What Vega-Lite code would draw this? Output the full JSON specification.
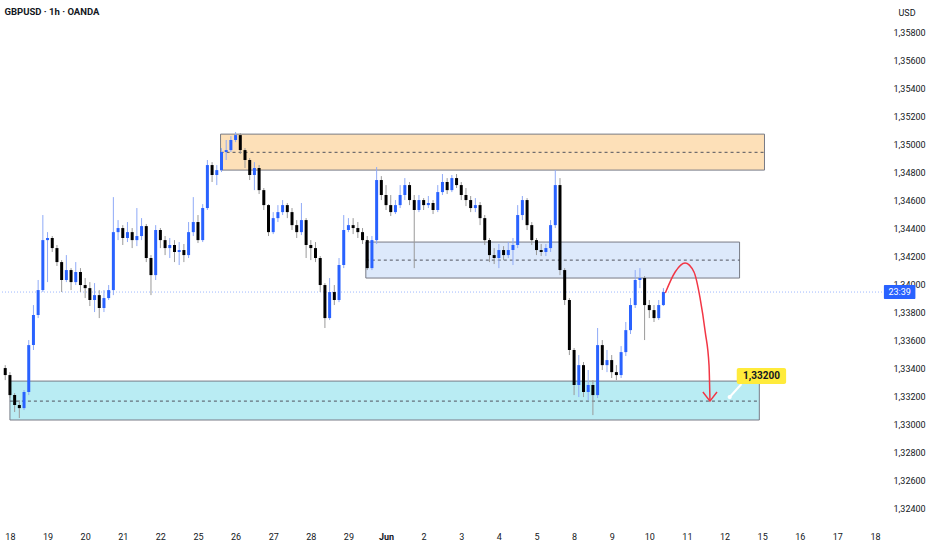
{
  "$schema": "https://vega.github.io/schema/vega-lite/v6.json",
  "width": 885,
  "height": 525,
  "autosize": "none",
  "padding": {"left": 0, "top": 0, "right": 47, "bottom": 25},
  "background": "#ffffff",
  "title": {
    "text": "GBPUSD · 1h · OANDA",
    "anchor": "start",
    "baseline": "top",
    "dx": 5,
    "dy": 20,
    "font": "Roboto",
    "fontSize": 9.5,
    "fontWeight": "bold",
    "color": "#131722"
  },
  "config": {
    "view": {"stroke": null},
    "axis": {
      "grid": false,
      "domain": false,
      "ticks": false,
      "labelFont": "Roboto",
      "labelFontSize": 9,
      "labelColor": "#131722",
      "titleFont": "Roboto"
    }
  },
  "datasets": {
    "candles": [
      {"i":-1,"o":1.334,"h":1.33421,"l":1.33314,"c":1.3335},
      {"i":0,"o":1.3335,"h":1.33371,"l":1.33186,"c":1.33207},
      {"i":1,"o":1.33207,"h":1.33221,"l":1.33086,"c":1.33136},
      {"i":2,"o":1.33136,"h":1.33171,"l":1.33043,"c":1.33114},
      {"i":3,"o":1.33114,"h":1.33243,"l":1.331,"c":1.33229},
      {"i":4,"o":1.33229,"h":1.336,"l":1.33207,"c":1.33564},
      {"i":5,"o":1.33564,"h":1.3385,"l":1.33529,"c":1.33779},
      {"i":6,"o":1.33779,"h":1.34029,"l":1.33757,"c":1.33957},
      {"i":7,"o":1.33957,"h":1.34493,"l":1.33943,"c":1.34314},
      {"i":8,"o":1.34314,"h":1.34371,"l":1.34014,"c":1.34329},
      {"i":9,"o":1.34329,"h":1.34343,"l":1.34229,"c":1.34257},
      {"i":10,"o":1.34257,"h":1.34279,"l":1.34129,"c":1.34157},
      {"i":11,"o":1.34157,"h":1.34171,"l":1.33943,"c":1.34029},
      {"i":12,"o":1.34029,"h":1.34207,"l":1.34014,"c":1.341},
      {"i":13,"o":1.341,"h":1.34114,"l":1.33957,"c":1.34014},
      {"i":14,"o":1.34014,"h":1.34157,"l":1.33993,"c":1.34086},
      {"i":15,"o":1.34086,"h":1.34114,"l":1.33943,"c":1.33993},
      {"i":16,"o":1.33993,"h":1.34043,"l":1.339,"c":1.33971},
      {"i":17,"o":1.33971,"h":1.34014,"l":1.33843,"c":1.33886},
      {"i":18,"o":1.33886,"h":1.34007,"l":1.338,"c":1.33921},
      {"i":19,"o":1.33921,"h":1.33957,"l":1.33757,"c":1.33829},
      {"i":20,"o":1.33829,"h":1.33957,"l":1.338,"c":1.339},
      {"i":21,"o":1.339,"h":1.33993,"l":1.33886,"c":1.33957},
      {"i":22,"o":1.33957,"h":1.34621,"l":1.33921,"c":1.34371},
      {"i":23,"o":1.34371,"h":1.34457,"l":1.34314,"c":1.344},
      {"i":24,"o":1.344,"h":1.34421,"l":1.34279,"c":1.34329},
      {"i":25,"o":1.34329,"h":1.34443,"l":1.343,"c":1.34371},
      {"i":26,"o":1.34371,"h":1.344,"l":1.34257,"c":1.34314},
      {"i":27,"o":1.34314,"h":1.34543,"l":1.34271,"c":1.34343},
      {"i":28,"o":1.34343,"h":1.34471,"l":1.34314,"c":1.34414},
      {"i":29,"o":1.34414,"h":1.34429,"l":1.34157,"c":1.34186},
      {"i":30,"o":1.34186,"h":1.34207,"l":1.33921,"c":1.34064},
      {"i":31,"o":1.34064,"h":1.34421,"l":1.34029,"c":1.34386},
      {"i":32,"o":1.34386,"h":1.344,"l":1.34257,"c":1.34314},
      {"i":33,"o":1.34314,"h":1.34343,"l":1.34207,"c":1.34257},
      {"i":34,"o":1.34257,"h":1.34329,"l":1.34186,"c":1.34279},
      {"i":35,"o":1.34279,"h":1.34314,"l":1.34157,"c":1.34229},
      {"i":36,"o":1.34229,"h":1.343,"l":1.34136,"c":1.34243},
      {"i":37,"o":1.34243,"h":1.34286,"l":1.34157,"c":1.34207},
      {"i":38,"o":1.34207,"h":1.34443,"l":1.34186,"c":1.34371},
      {"i":39,"o":1.34371,"h":1.34621,"l":1.34343,"c":1.34443},
      {"i":40,"o":1.34443,"h":1.34493,"l":1.34293,"c":1.34314},
      {"i":41,"o":1.34314,"h":1.34571,"l":1.343,"c":1.34543},
      {"i":42,"o":1.34543,"h":1.34886,"l":1.34529,"c":1.3485},
      {"i":43,"o":1.3485,"h":1.34871,"l":1.34729,"c":1.34779},
      {"i":44,"o":1.34779,"h":1.3485,"l":1.34707,"c":1.34814},
      {"i":45,"o":1.34814,"h":1.34971,"l":1.348,"c":1.34943},
      {"i":46,"o":1.34943,"h":1.35029,"l":1.34886,"c":1.34957},
      {"i":47,"o":1.34957,"h":1.35057,"l":1.34943,"c":1.35029},
      {"i":48,"o":1.35029,"h":1.35086,"l":1.35014,"c":1.35064},
      {"i":49,"o":1.35064,"h":1.35079,"l":1.34929,"c":1.34957},
      {"i":50,"o":1.34957,"h":1.34971,"l":1.34829,"c":1.34886},
      {"i":51,"o":1.34886,"h":1.349,"l":1.34743,"c":1.34779},
      {"i":52,"o":1.34779,"h":1.34871,"l":1.34671,"c":1.34829},
      {"i":53,"o":1.34829,"h":1.3485,"l":1.34643,"c":1.34671},
      {"i":54,"o":1.34671,"h":1.34686,"l":1.34529,"c":1.34564},
      {"i":55,"o":1.34564,"h":1.34571,"l":1.34343,"c":1.34371},
      {"i":56,"o":1.34371,"h":1.34514,"l":1.34357,"c":1.34471},
      {"i":57,"o":1.34471,"h":1.34564,"l":1.34443,"c":1.34514},
      {"i":58,"o":1.34514,"h":1.346,"l":1.34493,"c":1.34564},
      {"i":59,"o":1.34564,"h":1.34579,"l":1.34471,"c":1.34514},
      {"i":60,"o":1.34514,"h":1.34543,"l":1.34386,"c":1.34421},
      {"i":61,"o":1.34421,"h":1.34457,"l":1.34329,"c":1.34371},
      {"i":62,"o":1.34371,"h":1.34579,"l":1.3435,"c":1.34457},
      {"i":63,"o":1.34457,"h":1.34471,"l":1.34186,"c":1.34279},
      {"i":64,"o":1.34279,"h":1.34314,"l":1.34171,"c":1.34257},
      {"i":65,"o":1.34257,"h":1.343,"l":1.34157,"c":1.34186},
      {"i":66,"o":1.34186,"h":1.342,"l":1.33943,"c":1.33993},
      {"i":67,"o":1.33993,"h":1.34007,"l":1.33686,"c":1.33757},
      {"i":68,"o":1.33757,"h":1.34043,"l":1.33743,"c":1.33943},
      {"i":69,"o":1.33943,"h":1.33993,"l":1.3385,"c":1.33886},
      {"i":70,"o":1.33886,"h":1.34186,"l":1.33871,"c":1.34136},
      {"i":71,"o":1.34136,"h":1.34493,"l":1.34114,"c":1.34386},
      {"i":72,"o":1.34386,"h":1.34471,"l":1.34371,"c":1.34421},
      {"i":73,"o":1.34421,"h":1.34471,"l":1.34357,"c":1.344},
      {"i":74,"o":1.344,"h":1.34443,"l":1.34329,"c":1.34371},
      {"i":75,"o":1.34371,"h":1.344,"l":1.34286,"c":1.34314},
      {"i":76,"o":1.34314,"h":1.34343,"l":1.341,"c":1.34114},
      {"i":77,"o":1.34114,"h":1.34343,"l":1.341,"c":1.34314},
      {"i":78,"o":1.34314,"h":1.34836,"l":1.34286,"c":1.34743},
      {"i":79,"o":1.34743,"h":1.34771,"l":1.346,"c":1.34636},
      {"i":80,"o":1.34636,"h":1.34707,"l":1.34529,"c":1.34564},
      {"i":81,"o":1.34564,"h":1.34636,"l":1.34486,"c":1.34514},
      {"i":82,"o":1.34514,"h":1.346,"l":1.345,"c":1.34564},
      {"i":83,"o":1.34564,"h":1.34707,"l":1.34543,"c":1.34636},
      {"i":84,"o":1.34636,"h":1.34757,"l":1.346,"c":1.34707},
      {"i":85,"o":1.34707,"h":1.34729,"l":1.34564,"c":1.346},
      {"i":86,"o":1.346,"h":1.34636,"l":1.34114,"c":1.34529},
      {"i":87,"o":1.34529,"h":1.34636,"l":1.34514,"c":1.346},
      {"i":88,"o":1.346,"h":1.34614,"l":1.34529,"c":1.34564},
      {"i":89,"o":1.34564,"h":1.34629,"l":1.34543,"c":1.34579},
      {"i":90,"o":1.34579,"h":1.346,"l":1.345,"c":1.34529},
      {"i":91,"o":1.34529,"h":1.34707,"l":1.34514,"c":1.34657},
      {"i":92,"o":1.34657,"h":1.34786,"l":1.34636,"c":1.34729},
      {"i":93,"o":1.34729,"h":1.34757,"l":1.34643,"c":1.34671},
      {"i":94,"o":1.34671,"h":1.34779,"l":1.34657,"c":1.34757},
      {"i":95,"o":1.34757,"h":1.34786,"l":1.34686,"c":1.34707},
      {"i":96,"o":1.34707,"h":1.34729,"l":1.346,"c":1.34636},
      {"i":97,"o":1.34636,"h":1.34686,"l":1.34557,"c":1.346},
      {"i":98,"o":1.346,"h":1.34629,"l":1.34514,"c":1.34543},
      {"i":99,"o":1.34543,"h":1.34614,"l":1.34514,"c":1.34564},
      {"i":100,"o":1.34564,"h":1.34586,"l":1.34421,"c":1.34471},
      {"i":101,"o":1.34471,"h":1.34493,"l":1.34279,"c":1.34314},
      {"i":102,"o":1.34314,"h":1.34329,"l":1.34157,"c":1.34207},
      {"i":103,"o":1.34207,"h":1.34257,"l":1.34143,"c":1.34186},
      {"i":104,"o":1.34186,"h":1.34286,"l":1.34114,"c":1.34243},
      {"i":105,"o":1.34243,"h":1.34271,"l":1.34171,"c":1.34207},
      {"i":106,"o":1.34207,"h":1.343,"l":1.34186,"c":1.34243},
      {"i":107,"o":1.34243,"h":1.34329,"l":1.34136,"c":1.34279},
      {"i":108,"o":1.34279,"h":1.34564,"l":1.34257,"c":1.34493},
      {"i":109,"o":1.34493,"h":1.34629,"l":1.34457,"c":1.346},
      {"i":110,"o":1.346,"h":1.34614,"l":1.34386,"c":1.34421},
      {"i":111,"o":1.34421,"h":1.34443,"l":1.34279,"c":1.34314},
      {"i":112,"o":1.34314,"h":1.34329,"l":1.34207,"c":1.34243},
      {"i":113,"o":1.34243,"h":1.34286,"l":1.342,"c":1.34229},
      {"i":114,"o":1.34229,"h":1.34286,"l":1.342,"c":1.34257},
      {"i":115,"o":1.34257,"h":1.34457,"l":1.34229,"c":1.34421},
      {"i":116,"o":1.34421,"h":1.34814,"l":1.344,"c":1.34707},
      {"i":117,"o":1.34707,"h":1.34757,"l":1.34064,"c":1.341},
      {"i":118,"o":1.341,"h":1.34114,"l":1.3385,"c":1.33886},
      {"i":119,"o":1.33886,"h":1.339,"l":1.33493,"c":1.33529},
      {"i":120,"o":1.33529,"h":1.33543,"l":1.33207,"c":1.33279},
      {"i":121,"o":1.33279,"h":1.33493,"l":1.33193,"c":1.33421},
      {"i":122,"o":1.33421,"h":1.33443,"l":1.33193,"c":1.33229},
      {"i":123,"o":1.33229,"h":1.33386,"l":1.33171,"c":1.33279},
      {"i":124,"o":1.33279,"h":1.33314,"l":1.33064,"c":1.33207},
      {"i":125,"o":1.33207,"h":1.33686,"l":1.33186,"c":1.33564},
      {"i":126,"o":1.33564,"h":1.336,"l":1.33386,"c":1.33421},
      {"i":127,"o":1.33421,"h":1.33529,"l":1.33371,"c":1.33457},
      {"i":128,"o":1.33457,"h":1.33493,"l":1.33329,"c":1.33371},
      {"i":129,"o":1.33371,"h":1.33421,"l":1.33314,"c":1.3335},
      {"i":130,"o":1.3335,"h":1.33557,"l":1.33329,"c":1.33514},
      {"i":131,"o":1.33514,"h":1.33729,"l":1.33486,"c":1.33671},
      {"i":132,"o":1.33671,"h":1.339,"l":1.33643,"c":1.3385},
      {"i":133,"o":1.3385,"h":1.341,"l":1.33829,"c":1.34029},
      {"i":134,"o":1.34029,"h":1.34114,"l":1.33971,"c":1.34043},
      {"i":135,"o":1.34043,"h":1.34057,"l":1.336,"c":1.3385},
      {"i":136,"o":1.3385,"h":1.33886,"l":1.33757,"c":1.33814},
      {"i":137,"o":1.33814,"h":1.3385,"l":1.33729,"c":1.33757},
      {"i":138,"o":1.33757,"h":1.33886,"l":1.33743,"c":1.3385},
      {"i":139,"o":1.3385,"h":1.33971,"l":1.33843,"c":1.33943}
    ],
    "zones": [
      {"zone":"supply","i":44.8,"i2":160.5,"p":1.35071,"p2":1.34814,"m":1.34941},
      {"zone":"retest","i":75.7,"i2":155.2,"p":1.343,"p2":1.34043,"m":1.34171},
      {"zone":"demand","i":0,"i2":159.4,"p":1.33307,"p2":1.33029,"m":1.33164}
    ],
    "arrow": [
      {"k":1,"i":139.4,"p":1.33936},
      {"k":2,"i":141.5,"p":1.34086},
      {"k":3,"i":143.6,"p":1.3415},
      {"k":4,"i":145.5,"p":1.34086},
      {"k":5,"i":146.8,"p":1.339},
      {"k":6,"i":147.9,"p":1.33657},
      {"k":7,"i":148.7,"p":1.33421},
      {"k":8,"i":148.9,"p":1.33171}
    ],
    "head": [
      {"k":1,"i":147.4,"p":1.33229},
      {"k":2,"i":148.9,"p":1.33164},
      {"k":3,"i":150.4,"p":1.33229}
    ],
    "callout": [
      {"k":1,"i":153.1,"p":1.33193},
      {"k":2,"i":155.6,"p":1.33286}
    ],
    "label": [
      {"i":154.6,"i2":165.1,"p":1.334,"p2":1.33286,"im":159.85,"pm":1.33343,"t":"1,33200"}
    ],
    "tag": [
      {"i":185.9,"i2":192.6,"p":1.33993,"p2":1.33893,"im":189.25,"pm":1.33943,"t":"23:39"}
    ]
  },
  "layer": [
    {
      "data": {"name": "zones"},
      "mark": {"type": "rect", "stroke": "#787b86", "strokeWidth": 1},
      "encoding": {
        "x": {
          "field": "i", "type": "quantitative",
          "scale": {"domain": [-1.05, 185.07], "nice": false, "zero": false},
          "axis": {
            "orient": "bottom",
            "values": [0,8,16,24,32,40,48,56,64,72,80,88,96,104,112,120,128,136,144,152,160,168,176,184],
            "tickCount": 40,
            "labelExpr": "['18','19','20','21','22','25','26','27','28','29','Jun','2','3','4','5','8','9','10','11','12','15','16','17','18'][round(datum.value / 8)]",
            "labelOverlap": false,
            "labelFlush": false,
            "labelBound": false,
            "labelPadding": 7,
            "labelFontWeight": {"condition": {"test": "datum.value == 80", "value": "bold"}, "value": "normal"},
            "title": null
          }
        },
        "x2": {"field": "i2"},
        "y": {
          "field": "p", "type": "quantitative",
          "scale": {"domain": [1.32279, 1.36029], "nice": false, "zero": false},
          "axis": {
            "orient": "right",
            "values": [1.324,1.326,1.328,1.33,1.332,1.334,1.336,1.338,1.34,1.342,1.344,1.346,1.348,1.35,1.352,1.354,1.356,1.358],
            "tickCount": 40,
            "labelExpr": "replace(format(datum.value, '.5f'), '.', ',')",
            "labelOverlap": false,
            "labelFlush": false,
            "labelBound": false,
            "labelAlign": "left",
            "labelPadding": 8,
            "title": "USD",
            "titleAngle": 0,
            "titleAlign": "left",
            "titleBaseline": "middle",
            "titleX": 13,
            "titleY": 12,
            "titleFontSize": 9,
            "titleFontWeight": "normal",
            "titleColor": "#131722"
          }
        },
        "y2": {"field": "p2"},
        "color": {
          "field": "zone", "type": "nominal",
          "scale": {"domain": ["supply", "retest", "demand"], "range": ["#fde0b8", "#dde9fb", "#b9ecf3"]},
          "legend": null
        }
      }
    },
    {
      "data": {"name": "zones"},
      "mark": {"type": "rule", "color": "#50535e", "strokeWidth": 1, "strokeDash": [3, 3]},
      "encoding": {
        "x": {"field": "i", "type": "quantitative"},
        "x2": {"field": "i2"},
        "y": {"field": "m", "type": "quantitative"}
      }
    },
    {
      "data": {"values": [{"p": 1.33943}]},
      "mark": {"type": "rule", "color": "#2962ff", "opacity": 0.45, "strokeWidth": 1, "strokeDash": [1, 2]},
      "encoding": {
        "y": {"field": "p", "type": "quantitative"}
      }
    },
    {
      "data": {"name": "candles"},
      "mark": {"type": "rule", "strokeWidth": 1},
      "encoding": {
        "x": {"field": "i", "type": "quantitative"},
        "y": {"field": "l", "type": "quantitative"},
        "y2": {"field": "h"},
        "color": {"condition": {"test": "datum.c >= datum.o", "value": "#8faaf7"}, "value": "#9a9a9a"}
      }
    },
    {
      "data": {"name": "candles"},
      "mark": {"type": "bar", "size": 3},
      "encoding": {
        "x": {"field": "i", "type": "quantitative"},
        "y": {"field": "o", "type": "quantitative"},
        "y2": {"field": "c"},
        "color": {"condition": {"test": "datum.c >= datum.o", "value": "#2962ff"}, "value": "#000000"}
      }
    },
    {
      "data": {"name": "arrow"},
      "mark": {"type": "line", "color": "#f23645", "strokeWidth": 1.5, "interpolate": "monotone"},
      "encoding": {
        "x": {"field": "i", "type": "quantitative"},
        "y": {"field": "p", "type": "quantitative"},
        "order": {"field": "k"}
      }
    },
    {
      "data": {"name": "head"},
      "mark": {"type": "line", "color": "#f23645", "strokeWidth": 1.5},
      "encoding": {
        "x": {"field": "i", "type": "quantitative"},
        "y": {"field": "p", "type": "quantitative"},
        "order": {"field": "k"}
      }
    },
    {
      "data": {"name": "callout"},
      "mark": {"type": "line", "color": "#ffffff", "strokeWidth": 2},
      "encoding": {
        "x": {"field": "i", "type": "quantitative"},
        "y": {"field": "p", "type": "quantitative"},
        "order": {"field": "k"}
      }
    },
    {
      "data": {"name": "callout"},
      "transform": [{"filter": "datum.k == 1"}],
      "mark": {"type": "circle", "color": "#ffffff", "size": 18, "opacity": 1},
      "encoding": {
        "x": {"field": "i", "type": "quantitative"},
        "y": {"field": "p", "type": "quantitative"}
      }
    },
    {
      "data": {"name": "label"},
      "mark": {"type": "rect", "color": "#ffeb3b", "cornerRadius": 2},
      "encoding": {
        "x": {"field": "i", "type": "quantitative"},
        "x2": {"field": "i2"},
        "y": {"field": "p", "type": "quantitative"},
        "y2": {"field": "p2"}
      }
    },
    {
      "data": {"name": "label"},
      "mark": {"type": "text", "font": "Roboto", "fontSize": 10, "fontWeight": "bold", "color": "#131722", "align": "center", "baseline": "middle"},
      "encoding": {
        "x": {"field": "im", "type": "quantitative"},
        "y": {"field": "pm", "type": "quantitative"},
        "text": {"field": "t"}
      }
    },
    {
      "data": {"name": "tag"},
      "mark": {"type": "rect", "color": "#2962ff", "cornerRadius": 1},
      "encoding": {
        "x": {"field": "i", "type": "quantitative"},
        "x2": {"field": "i2"},
        "y": {"field": "p", "type": "quantitative"},
        "y2": {"field": "p2"}
      }
    },
    {
      "data": {"name": "tag"},
      "mark": {"type": "text", "font": "Roboto", "fontSize": 9, "color": "#ffffff", "align": "center", "baseline": "middle"},
      "encoding": {
        "x": {"field": "im", "type": "quantitative"},
        "y": {"field": "pm", "type": "quantitative"},
        "text": {"field": "t"}
      }
    }
  ]
}
